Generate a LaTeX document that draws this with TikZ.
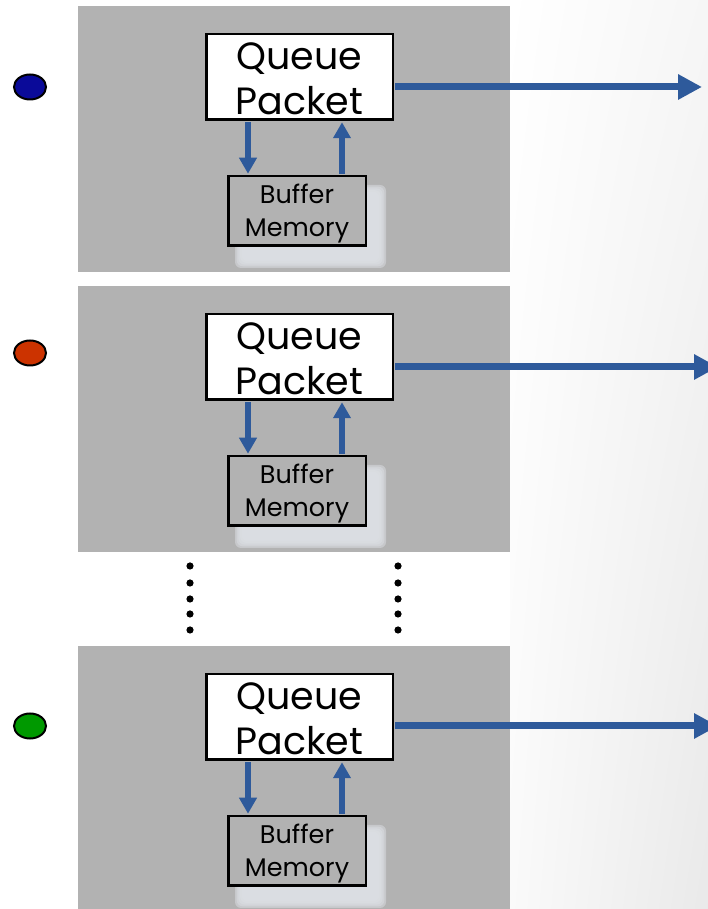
\documentclass[tikz,border=0pt]{standalone}
\usepackage{fontspec}
\setmainfont{Poppins}
\usetikzlibrary{arrows.meta,shapes.geometric,shadings}
\definecolor{panelgray}{HTML}{B2B2B2}
\definecolor{arrowblue}{RGB}{46,90,155}
\definecolor{shadowin}{HTML}{DCDFE4}
\definecolor{dotblue}{HTML}{0A0A99}
\definecolor{dotred}{HTML}{CC3300}
\definecolor{dotgreen}{HTML}{009900}
\begin{document}
\begin{tikzpicture}[x=1pt,y=1pt,
  panel/.style={fill=panelgray},
  queuebox/.style={draw=black,line width=2.5pt,fill=white,minimum width=186.5pt,minimum height=85.5pt,inner sep=0pt,align=center,font=\fontsize{38}{45}\selectfont},
  bufferbox/.style={draw=black,line width=2.5pt,fill=panelgray,minimum width=137.5pt,minimum height=69.5pt,inner sep=0pt,align=center,font=\fontsize{25.5}{33}\selectfont},
  flowdot/.style={ellipse,draw=black,line width=2pt,minimum width=32pt,minimum height=25pt,inner sep=0pt},
  bigarrow/.style={draw=arrowblue,line width=7pt,-{Triangle[length=24pt,width=24pt]}},
  smallarrow/.style={draw=arrowblue,line width=6pt,-{Triangle[length=16pt,width=17pt]},shorten <=1.25pt,shorten >=1.25pt},
  shadowlayer/.style={fill=shadowin,fill opacity=0.5,rounded corners=6pt}
]
\useasboundingbox (0,0) rectangle (708,909);
\clip (0,0) rectangle (708,909);
\fill[white] (0,0) rectangle (708,909);
\shade[upper left=white,upper right=gray!7,lower left=gray!4,lower right=gray!17] (510,0) rectangle (708,909);

\foreach \i/\t/\cy/\ay/\tx/\col in {1/6/87/87/702/dotblue,2/286/353/367/718/dotred,3/646/726/726/718/dotgreen}{
  \pgfmathsetmacro\ptop{909-\t}
  \pgfmathsetmacro\pbot{909-\t-266}
  \pgfmathsetmacro\qy{909-\t-71}
  \pgfmathsetmacro\by{909-\t-205}
  \fill[panel] (78,\ptop) rectangle (510,\pbot);
  \foreach \k in {0,1.7,3.4,5.1,6.8}{
    \fill[shadowlayer] ({235+\k},{909-\t-179-\k}) rectangle ({386-\k},{909-\t-262+\k});
  }
  \node[queuebox] (q\i) at (299.5,\qy) {\rule{0pt}{30pt}Queue\\Packet};
  \node[bufferbox] (b\i) at (297,\by) {\rule{0pt}{24pt}Buffer\\Memory};
  \node[flowdot,fill=\col] (c\i) at (30,{909-\cy}) {};
  \coordinate (dn\i) at (248,\qy);
  \coordinate (up\i) at (342,\qy);
  \coordinate (tip\i) at (\tx,{909-\ay});
  \draw[smallarrow] (dn\i |- q\i.south) -- (dn\i |- b\i.north);
  \draw[smallarrow] (up\i |- b\i.north) -- (up\i |- q\i.south);
  \draw[bigarrow] ([xshift=1.25pt]q\i.east |- tip\i) -- (tip\i);
}

\foreach \y in {566,583,599,614,630}{
  \fill (190,{909-\y}) circle (3.6);
  \fill (398,{909-\y}) circle (3.6);
}
\end{tikzpicture}
\end{document}
